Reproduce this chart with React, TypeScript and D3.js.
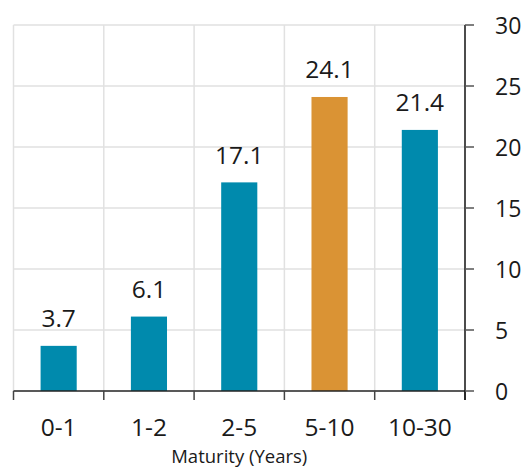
import React from "react";
import * as d3 from "d3";

const categories = ["0-1", "1-2", "2-5", "5-10", "10-30"];
const values = [3.7, 6.1, 17.1, 24.1, 21.4];
const highlight = [false, false, false, true, false];
const yTicks = [0, 5, 10, 15, 20, 25, 30];
const xTitle = "Maturity (Years)";

const W = 524;
const H = 467;
const left = 13.5;
const right = 465;
const top = 25;
const bottom = 391;
const FONT = "'Open Sans', sans-serif";

export default function App() {
  const x = d3.scaleBand<string>().domain(categories).range([left, right]).padding(0);
  const y = d3.scaleLinear().domain([0, 30]).range([bottom, top]);
  const bw = x.bandwidth() * 0.4;
  const bounds = categories.map((c) => x(c) as number).concat([right]);

  return (
    <svg
      width={W}
      height={H}
      style={{ position: "absolute", left: 0, top: 0, background: "#fff" }}
    >
      {yTicks.slice(1).map((t) => (
        <line key={"h" + t} x1={left} x2={right} y1={y(t)} y2={y(t)} stroke="#e1e1e1" strokeWidth={1.5} />
      ))}
      {bounds.slice(0, -1).map((b, i) => (
        <line key={"v" + i} x1={b} x2={b} y1={top} y2={bottom} stroke="#e1e1e1" strokeWidth={1.5} />
      ))}
      {categories.map((c, i) => {
        const cx = (x(c) as number) + x.bandwidth() / 2;
        return (
          <rect
            key={c}
            x={cx - bw / 2}
            y={y(values[i])}
            width={bw}
            height={y(0) - y(values[i])}
            fill={highlight[i] ? "#DA9334" : "#008AAD"}
          />
        );
      })}
      {categories.map((c, i) => {
        const cx = (x(c) as number) + x.bandwidth() / 2;
        return (
          <text
            key={"l" + c}
            x={cx}
            y={y(values[i]) - 18.5}
            textAnchor="middle"
            fontFamily={FONT}
            fontSize={24.5}
            fill="#1a1a1a"
          >
            {values[i].toFixed(1)}
          </text>
        );
      })}
      <line x1={left} x2={right} y1={bottom} y2={bottom} stroke="#222" strokeWidth={1.5} />
      {bounds.map((b, i) => (
        <line key={"bt" + i} x1={b} x2={b} y1={bottom} y2={bottom + 9} stroke="#444" strokeWidth={1.5} />
      ))}
      {categories.map((c) => (
        <text
          key={"x" + c}
          x={(x(c) as number) + x.bandwidth() / 2}
          y={436}
          textAnchor="middle"
          fontFamily={FONT}
          fontSize={24.5}
          fill="#1a1a1a"
        >
          {c}
        </text>
      ))}
      <text x={(left + right) / 2} y={463} textAnchor="middle" fontFamily={FONT} fontSize={18.5} fill="#1a1a1a">
        {xTitle}
      </text>
      <line x1={right} x2={right} y1={top} y2={bottom + 9} stroke="#111" strokeWidth={1.5} />
      {yTicks.map((t) => (
        <g key={"yt" + t}>
          <line x1={right} x2={right + 9} y1={y(t)} y2={y(t)} stroke="#555" strokeWidth={1.5} />
          <text
            x={495}
            y={y(t)}
            dominantBaseline="central"
            fontFamily={FONT}
            fontSize={23}
            fill="#1a1a1a"
          >
            {t}
          </text>
        </g>
      ))}
    </svg>
  );
}
